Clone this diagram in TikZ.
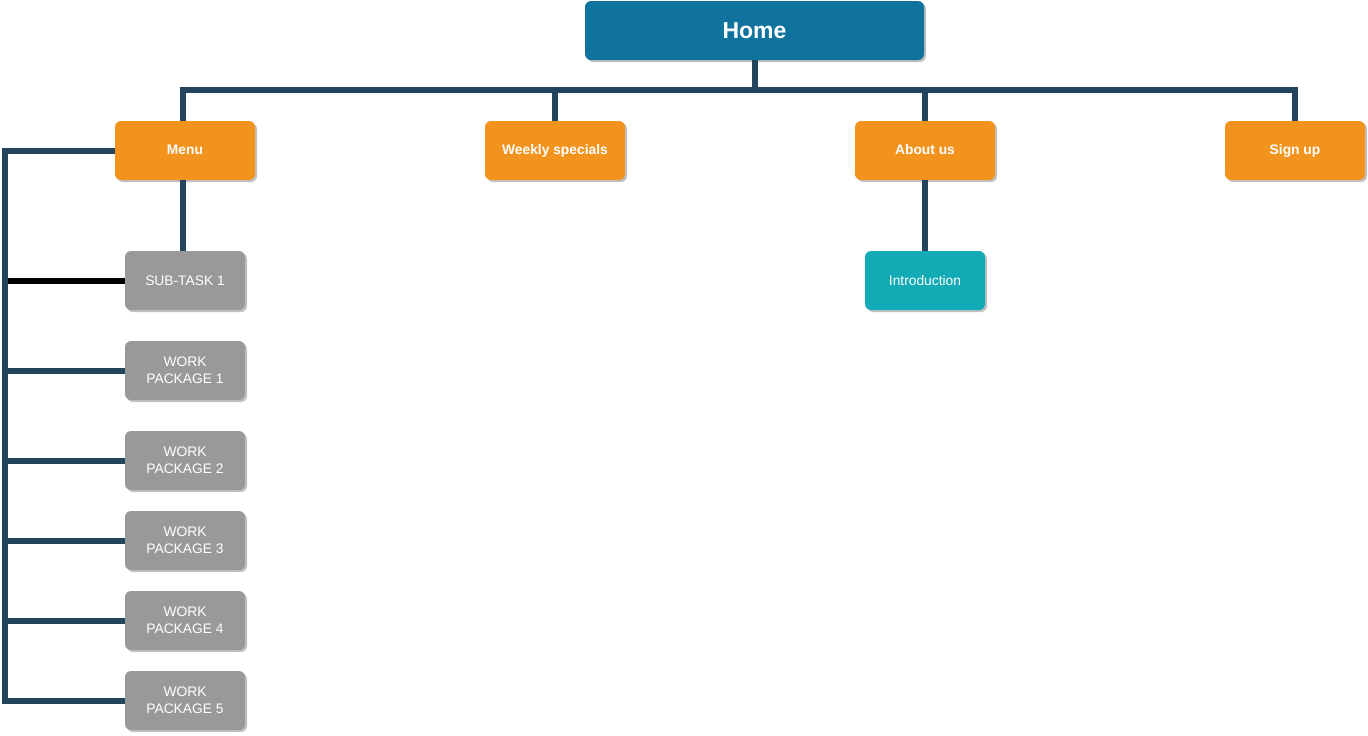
\documentclass[tikz,border=0pt]{standalone}
\usepackage{fontspec}
\setmainfont{Liberation Sans}
\usepackage{tikz}
\usetikzlibrary{shadows}

\definecolor{HomeBlue}{HTML}{10739E}
\definecolor{MenuOrange}{HTML}{F2931E}
\definecolor{TaskGray}{HTML}{999999}
\definecolor{IntroTeal}{HTML}{12AAB5}
\definecolor{LineNavy}{HTML}{23445D}

\begin{document}
\begin{tikzpicture}[x=1pt,y=-1pt]
  \tikzset{BoxStyle/.style = {
    shape          = rectangle,
    rounded corners= 6pt,
    draw           = none,
    text           = white,
    inner sep      = 2pt,
    outer sep      = 0pt,
    align          = center,
    drop shadow    = {shadow xshift=2pt, shadow yshift=-2pt,
                      fill=black!30, opacity=0.8}
    }
  }
  \tikzset{HomeStyle/.style = {
    BoxStyle,
    fill           = HomeBlue,
    minimum width  = 339pt,
    minimum height = 59pt,
    font           = \fontsize{23}{27}\selectfont\bfseries
    }
  }
  \tikzset{PageStyle/.style = {
    BoxStyle,
    fill           = MenuOrange,
    minimum width  = 140pt,
    minimum height = 59pt,
    text height    = 10pt,
    text depth     = 3pt,
    font           = \fontsize{13.8}{16}\selectfont\bfseries
    }
  }
  \tikzset{TaskStyle/.style = {
    BoxStyle,
    fill           = TaskGray,
    minimum width  = 120pt,
    minimum height = 59pt,
    font           = \fontsize{13.8}{17}\selectfont
    }
  }
  \tikzset{EdgeStyle/.style = {
    draw           = LineNavy,
    line width     = 6pt
    }
  }

  \useasboundingbox (0,0) rectangle (1368,736);

  \node[HomeStyle](Home) at (754.5, 30.5) {Home};
  \node[PageStyle](Menu) at (185, 150.5) {Menu};
  \node[PageStyle](Weekly) at (555, 150.5) {Weekly specials};
  \node[PageStyle](About) at (925, 150.5) {About us};
  \node[PageStyle](Signup) at (1295, 150.5) {Sign up};
  \node[TaskStyle](Sub1) at (185, 280.5) {SUB-TASK 1};
  \node[TaskStyle, fill=IntroTeal](Intro) at (925, 280.5) {Introduction};
  \node[TaskStyle](WP1) at (185, 370.5) {WORK\\PACKAGE 1};
  \node[TaskStyle](WP2) at (185, 460.5) {WORK\\PACKAGE 2};
  \node[TaskStyle](WP3) at (185, 540.5) {WORK\\PACKAGE 3};
  \node[TaskStyle](WP4) at (185, 620.5) {WORK\\PACKAGE 4};
  \node[TaskStyle](WP5) at (185, 700.5) {WORK\\PACKAGE 5};

  \coordinate (HomeBus) at (754.5, 90);
  \coordinate (MenuBus) at (5, 150.5);

  \draw[EdgeStyle](Home.south) -- (HomeBus) -| ([xshift=-2pt]Menu.north);
  \draw[EdgeStyle](HomeBus) -| (Weekly.north);
  \draw[EdgeStyle](HomeBus) -| (About.north);
  \draw[EdgeStyle](HomeBus) -| (Signup.north);
  \draw[EdgeStyle]([xshift=-2pt]Menu.south) -- ([xshift=-2pt]Sub1.north);
  \draw[EdgeStyle](About.south) -- (Intro.north);
  \draw[EdgeStyle, draw=black](Sub1.west) -- (Sub1.west -| MenuBus);
  \draw[EdgeStyle](WP1.west) -- (WP1.west -| MenuBus);
  \draw[EdgeStyle](WP2.west) -- (WP2.west -| MenuBus);
  \draw[EdgeStyle](WP3.west) -- (WP3.west -| MenuBus);
  \draw[EdgeStyle](WP4.west) -- (WP4.west -| MenuBus);
  \draw[EdgeStyle](Menu.west) -- (MenuBus) |- (WP5.west);

\end{tikzpicture}
\end{document}
